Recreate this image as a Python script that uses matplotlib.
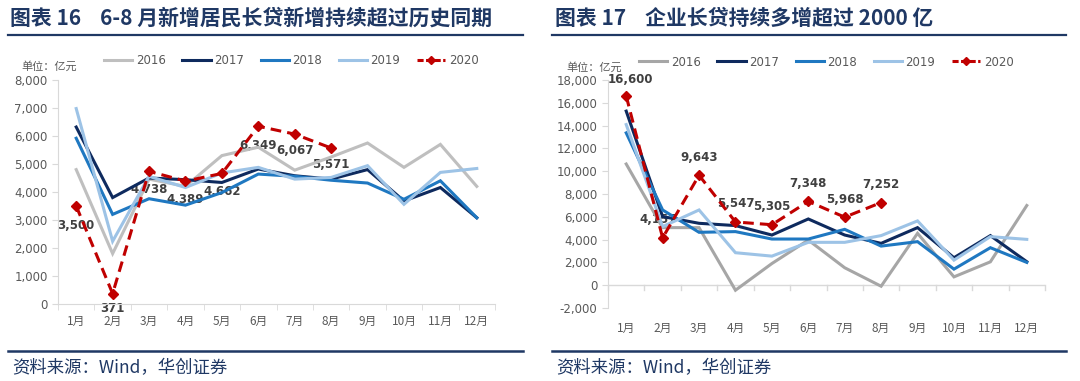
import matplotlib
matplotlib.use("Agg")
import matplotlib.pyplot as plt
from matplotlib.lines import Line2D

plt.rcParams['font.family'] = ['Noto Sans CJK SC', 'DejaVu Sans']

months = ['1月', '2月', '3月', '4月', '5月', '6月', '7月', '8月', '9月', '10月', '11月', '12月']
years = ['2016', '2017', '2018', '2019', '2020']

# 图表16 居民长贷 (亿元)
hh_2016 = [4800, 1800, 4460, 4200, 5300, 5600, 4780, 5250, 5750, 4880, 5700, 4200]
hh_2017 = [6320, 3800, 4500, 4440, 4340, 4820, 4580, 4460, 4800, 3680, 4160, 3080]
hh_2018 = [5920, 3200, 3760, 3530, 3980, 4640, 4560, 4420, 4320, 3740, 4400, 3080]
hh_2019 = [6980, 2240, 4560, 4160, 4680, 4880, 4460, 4520, 4940, 3560, 4700, 4840]
hh_2020 = [3500, 371, 4738, 4389, 4662, 6349, 6067, 5571]

# 图表17 企业长贷 (亿元)
co_2016 = [10630, 5050, 5050, -440, 1900, 3960, 1530, -90, 4550, 730, 2050, 6990]
co_2017 = [15270, 6020, 5430, 5230, 4400, 5810, 4400, 3670, 5050, 2410, 4350, 2060]
co_2018 = [13360, 6600, 4640, 4700, 4050, 4050, 4900, 3430, 3820, 1410, 3290, 2000]
co_2019 = [14090, 5140, 6600, 2850, 2550, 3760, 3760, 4350, 5640, 2200, 4260, 4020]
co_2020 = [16600, 4157, 9643, 5547, 5305, 7348, 5968, 7252]

W, H = 1080, 381
fig = plt.figure(figsize=(W / 100, H / 100), dpi=100)

navy = '#1F3864'
colors = {'2016': '#BFBFBF', '2017': '#0E2A5E', '2018': '#1F78C1', '2019': '#9DC3E6'}


def px_axes(x0, y0, x1, y1):
    return fig.add_axes([x0 / W, 1 - y1 / H, (x1 - x0) / W, (y1 - y0) / H])


def draw_panel(ax, series, s2020, ymin, ymax, step, lbl_offsets, gray16, xpad):
    x = list(range(12))
    cols = dict(colors)
    cols['2016'] = gray16
    for yr, vals in zip(years[:4], series):
        ax.plot(x, vals, color=cols[yr], lw=2.2, solid_joinstyle='miter', zorder=2)
    ax.plot(range(len(s2020)), s2020, color='#C00000', lw=2.2, ls=(0, (3.5, 2)),
            marker='D', ms=5.5, zorder=3)
    for i, v in enumerate(s2020):
        dx, dy = lbl_offsets[i]
        ax.annotate(f'{v:,}', (i, v), xytext=(dx, dy), textcoords='offset points',
                    ha='center', va='center', fontsize=8.5, color='#404040',
                    fontweight='bold', family=['DejaVu Sans'], zorder=1.5)
    ax.set_xlim(-0.5, 11.5)
    ax.set_ylim(ymin, ymax)
    ax.set_yticks(range(ymin, ymax + 1, step))
    ax.set_yticklabels([f'{v:,}' for v in range(ymin, ymax + 1, step)],
                       family=['DejaVu Sans'])
    ax.set_xticks(x)
    ax.set_xticklabels(months)
    ax.set_xticks([i - 0.5 for i in range(13)], minor=True)
    ax.tick_params(axis='x', which='major', length=0, pad=xpad, labelsize=8.5, colors='#595959')
    ax.tick_params(axis='x', which='minor', length=4, color='#D9D9D9')
    ax.tick_params(axis='y', length=4, color='#D9D9D9', labelsize=8.5, colors='#595959')
    for s in ['top', 'right']:
        ax.spines[s].set_visible(False)
    for s in ['left', 'bottom']:
        ax.spines[s].set_color('#D9D9D9')
    if ymin < 0:
        ax.spines['bottom'].set_visible(False)
        ax.axhline(0, color='#D9D9D9', lw=1, zorder=0)
        ax.tick_params(axis='x', which='minor', length=0)
        for b in range(13):
            ax.plot([b - 0.5, b - 0.5], [0, -(ymax - ymin) * 0.02], color='#D9D9D9', lw=1,
                    clip_on=False, zorder=0)


def legend(ax, gray16, x0, y0):
    cols = dict(colors)
    cols['2016'] = gray16
    handles = [Line2D([], [], color=cols[y], lw=2.2) for y in years[:4]]
    handles.append(Line2D([], [], color='#C00000', lw=2.2, ls=(0, (2, 0.8)), marker='D', ms=4))
    ax.legend(handles, years, loc='center left', bbox_to_anchor=(x0 / W, 1 - y0 / H),
              bbox_transform=fig.transFigure, ncol=5, frameon=False,
              handlelength=2.4, handletextpad=0.3, columnspacing=1.4,
              borderaxespad=0, borderpad=0,
              prop={'family': ['DejaVu Sans'], 'size': 8.5}, labelcolor='#595959')


# left panel
ax1 = px_axes(58, 80, 495, 304)
left_off = [(0, -14), (0, -10.5), (0, -13), (0, -13), (0, -13), (0, -14), (0, -12), (0, -12)]
draw_panel(ax1, [hh_2016, hh_2017, hh_2018, hh_2019], hh_2020, 0, 8000, 1000, left_off,
           '#BFBFBF', 8)
legend(ax1, '#BFBFBF', 104, 61)

# right panel
ax2 = px_axes(608, 80, 1045, 308)
right_off = [(3, 12), (-3, 13), (0, 13), (0, 13), (0, 13), (0, 13), (0, 13), (0, 13)]
draw_panel(ax2, [co_2016, co_2017, co_2018, co_2019], co_2020, -2000, 18000, 2000, right_off,
           '#A6A6A6', 10)
legend(ax2, '#A6A6A6', 639, 62)

# unit labels
fig.text(21 / W, 1 - 66 / H, '单位：亿元', fontsize=8, color='#595959', va='center')
fig.text(566 / W, 1 - 67 / H, '单位：亿元', fontsize=8, color='#595959', va='center')

# titles
fig.text(10 / W, 1 - 18 / H, '图表 16    6-8 月新增居民长贷新增持续超过历史同期', fontsize=15,
         fontweight='bold', color=navy, va='center')
fig.text(555 / W, 1 - 18 / H, '图表 17    企业长贷持续多增超过 2000 亿', fontsize=15,
         fontweight='bold', color=navy, va='center')

# rules
for x0, x1 in [(8, 523), (552, 1066)]:
    fig.add_artist(Line2D([x0 / W, x1 / W], [1 - 35 / H] * 2, color=navy, lw=1.6))
    fig.add_artist(Line2D([x0 / W, x1 / W], [1 - 351 / H] * 2, color=navy, lw=1.8))

# sources
fig.text(12 / W, 1 - 368 / H, '资料来源：Wind，华创证券', fontsize=12.5, style='italic',
         color=navy, va='center')
fig.text(556 / W, 1 - 368 / H, '资料来源：Wind，华创证券', fontsize=12.5, style='italic',
         color=navy, va='center')

fig.savefig('out.png', dpi=100)
